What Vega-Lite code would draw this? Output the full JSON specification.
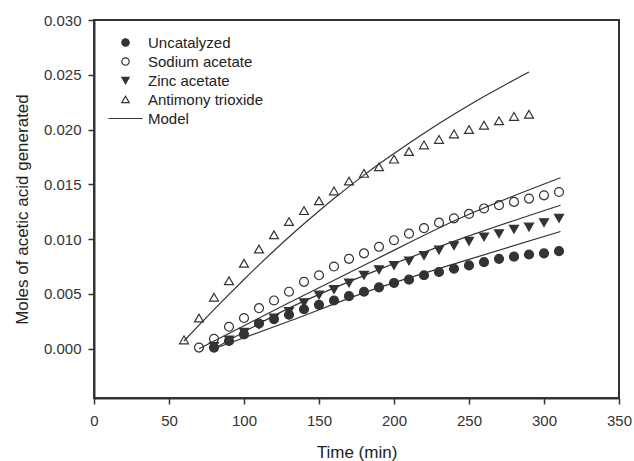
{
  "$schema": "https://vega.github.io/schema/vega-lite/v6.json",
  "width": 525,
  "height": 378,
  "autosize": "none",
  "padding": {"left": 94, "top": 20, "right": 15, "bottom": 63},
  "background": "white",
  "config": {
    "font": "Liberation Sans",
    "view": {"stroke": "#333", "strokeWidth": 2},
    "axis": {
      "grid": false,
      "domainColor": "#333",
      "domainWidth": 2,
      "tickColor": "#333",
      "tickWidth": 1.5,
      "tickSize": 6,
      "labelFont": "Liberation Sans",
      "labelFontSize": 15,
      "labelColor": "#333",
      "titleFont": "Liberation Sans",
      "titleFontSize": 17,
      "titleFontWeight": "normal",
      "titleColor": "#222"
    }
  },
  "datasets": {
    "obs": [
      {"t": 80, "v": 0.0001, "series": "Uncatalyzed"},
      {"t": 90, "v": 0.0007, "series": "Uncatalyzed"},
      {"t": 100, "v": 0.0013, "series": "Uncatalyzed"},
      {"t": 110, "v": 0.0023, "series": "Uncatalyzed"},
      {"t": 120, "v": 0.0027, "series": "Uncatalyzed"},
      {"t": 130, "v": 0.0031, "series": "Uncatalyzed"},
      {"t": 140, "v": 0.0036, "series": "Uncatalyzed"},
      {"t": 150, "v": 0.0040, "series": "Uncatalyzed"},
      {"t": 160, "v": 0.0044, "series": "Uncatalyzed"},
      {"t": 170, "v": 0.0048, "series": "Uncatalyzed"},
      {"t": 180, "v": 0.0052, "series": "Uncatalyzed"},
      {"t": 190, "v": 0.0056, "series": "Uncatalyzed"},
      {"t": 200, "v": 0.0060, "series": "Uncatalyzed"},
      {"t": 210, "v": 0.0063, "series": "Uncatalyzed"},
      {"t": 220, "v": 0.0067, "series": "Uncatalyzed"},
      {"t": 230, "v": 0.0070, "series": "Uncatalyzed"},
      {"t": 240, "v": 0.0073, "series": "Uncatalyzed"},
      {"t": 250, "v": 0.0076, "series": "Uncatalyzed"},
      {"t": 260, "v": 0.0079, "series": "Uncatalyzed"},
      {"t": 270, "v": 0.0082, "series": "Uncatalyzed"},
      {"t": 280, "v": 0.0084, "series": "Uncatalyzed"},
      {"t": 290, "v": 0.0086, "series": "Uncatalyzed"},
      {"t": 300, "v": 0.0087, "series": "Uncatalyzed"},
      {"t": 310, "v": 0.0089, "series": "Uncatalyzed"},
      {"t": 70, "v": 0.0001, "series": "Sodium acetate"},
      {"t": 80, "v": 0.0009, "series": "Sodium acetate"},
      {"t": 90, "v": 0.0020, "series": "Sodium acetate"},
      {"t": 100, "v": 0.0028, "series": "Sodium acetate"},
      {"t": 110, "v": 0.0037, "series": "Sodium acetate"},
      {"t": 120, "v": 0.0044, "series": "Sodium acetate"},
      {"t": 130, "v": 0.0052, "series": "Sodium acetate"},
      {"t": 140, "v": 0.0061, "series": "Sodium acetate"},
      {"t": 150, "v": 0.0067, "series": "Sodium acetate"},
      {"t": 160, "v": 0.0075, "series": "Sodium acetate"},
      {"t": 170, "v": 0.0082, "series": "Sodium acetate"},
      {"t": 180, "v": 0.0087, "series": "Sodium acetate"},
      {"t": 190, "v": 0.0093, "series": "Sodium acetate"},
      {"t": 200, "v": 0.0099, "series": "Sodium acetate"},
      {"t": 210, "v": 0.0105, "series": "Sodium acetate"},
      {"t": 220, "v": 0.0110, "series": "Sodium acetate"},
      {"t": 230, "v": 0.0115, "series": "Sodium acetate"},
      {"t": 240, "v": 0.0119, "series": "Sodium acetate"},
      {"t": 250, "v": 0.0123, "series": "Sodium acetate"},
      {"t": 260, "v": 0.0128, "series": "Sodium acetate"},
      {"t": 270, "v": 0.0131, "series": "Sodium acetate"},
      {"t": 280, "v": 0.0134, "series": "Sodium acetate"},
      {"t": 290, "v": 0.0137, "series": "Sodium acetate"},
      {"t": 300, "v": 0.0140, "series": "Sodium acetate"},
      {"t": 310, "v": 0.0143, "series": "Sodium acetate"},
      {"t": 80, "v": 0.0002, "series": "Zinc acetate"},
      {"t": 90, "v": 0.0008, "series": "Zinc acetate"},
      {"t": 100, "v": 0.0015, "series": "Zinc acetate"},
      {"t": 110, "v": 0.0022, "series": "Zinc acetate"},
      {"t": 120, "v": 0.0028, "series": "Zinc acetate"},
      {"t": 130, "v": 0.0034, "series": "Zinc acetate"},
      {"t": 140, "v": 0.0042, "series": "Zinc acetate"},
      {"t": 150, "v": 0.0049, "series": "Zinc acetate"},
      {"t": 160, "v": 0.0054, "series": "Zinc acetate"},
      {"t": 170, "v": 0.0060, "series": "Zinc acetate"},
      {"t": 180, "v": 0.0067, "series": "Zinc acetate"},
      {"t": 190, "v": 0.0072, "series": "Zinc acetate"},
      {"t": 200, "v": 0.0076, "series": "Zinc acetate"},
      {"t": 210, "v": 0.0080, "series": "Zinc acetate"},
      {"t": 220, "v": 0.0085, "series": "Zinc acetate"},
      {"t": 230, "v": 0.0090, "series": "Zinc acetate"},
      {"t": 240, "v": 0.0094, "series": "Zinc acetate"},
      {"t": 250, "v": 0.0098, "series": "Zinc acetate"},
      {"t": 260, "v": 0.0102, "series": "Zinc acetate"},
      {"t": 270, "v": 0.0105, "series": "Zinc acetate"},
      {"t": 280, "v": 0.0109, "series": "Zinc acetate"},
      {"t": 290, "v": 0.0111, "series": "Zinc acetate"},
      {"t": 300, "v": 0.0115, "series": "Zinc acetate"},
      {"t": 310, "v": 0.0119, "series": "Zinc acetate"},
      {"t": 60, "v": 0.0008, "series": "Antimony trioxide"},
      {"t": 70, "v": 0.0028, "series": "Antimony trioxide"},
      {"t": 80, "v": 0.0047, "series": "Antimony trioxide"},
      {"t": 90, "v": 0.0062, "series": "Antimony trioxide"},
      {"t": 100, "v": 0.0078, "series": "Antimony trioxide"},
      {"t": 110, "v": 0.0091, "series": "Antimony trioxide"},
      {"t": 120, "v": 0.0104, "series": "Antimony trioxide"},
      {"t": 130, "v": 0.0116, "series": "Antimony trioxide"},
      {"t": 140, "v": 0.0126, "series": "Antimony trioxide"},
      {"t": 150, "v": 0.0135, "series": "Antimony trioxide"},
      {"t": 160, "v": 0.0144, "series": "Antimony trioxide"},
      {"t": 170, "v": 0.0153, "series": "Antimony trioxide"},
      {"t": 180, "v": 0.0160, "series": "Antimony trioxide"},
      {"t": 190, "v": 0.0166, "series": "Antimony trioxide"},
      {"t": 200, "v": 0.0173, "series": "Antimony trioxide"},
      {"t": 210, "v": 0.0180, "series": "Antimony trioxide"},
      {"t": 220, "v": 0.0186, "series": "Antimony trioxide"},
      {"t": 230, "v": 0.0191, "series": "Antimony trioxide"},
      {"t": 240, "v": 0.0196, "series": "Antimony trioxide"},
      {"t": 250, "v": 0.0200, "series": "Antimony trioxide"},
      {"t": 260, "v": 0.0204, "series": "Antimony trioxide"},
      {"t": 270, "v": 0.0208, "series": "Antimony trioxide"},
      {"t": 280, "v": 0.0212, "series": "Antimony trioxide"},
      {"t": 290, "v": 0.0214, "series": "Antimony trioxide"}
    ],
    "model": [
      {"t": 80, "v": 0.0000, "series": "Uncatalyzed"},
      {"t": 130, "v": 0.0025, "series": "Uncatalyzed"},
      {"t": 184, "v": 0.0053, "series": "Uncatalyzed"},
      {"t": 244, "v": 0.0079, "series": "Uncatalyzed"},
      {"t": 311, "v": 0.0107, "series": "Uncatalyzed"},
      {"t": 70, "v": 0.0000, "series": "Sodium acetate"},
      {"t": 130, "v": 0.0042, "series": "Sodium acetate"},
      {"t": 187, "v": 0.0081, "series": "Sodium acetate"},
      {"t": 244, "v": 0.0119, "series": "Sodium acetate"},
      {"t": 311, "v": 0.0156, "series": "Sodium acetate"},
      {"t": 80, "v": 0.0000, "series": "Zinc acetate"},
      {"t": 130, "v": 0.0037, "series": "Zinc acetate"},
      {"t": 184, "v": 0.0069, "series": "Zinc acetate"},
      {"t": 244, "v": 0.0100, "series": "Zinc acetate"},
      {"t": 311, "v": 0.0131, "series": "Zinc acetate"},
      {"t": 60, "v": 0.00070, "series": "Antimony trioxide"},
      {"t": 70, "v": 0.00215, "series": "Antimony trioxide"},
      {"t": 80, "v": 0.00357, "series": "Antimony trioxide"},
      {"t": 90, "v": 0.00496, "series": "Antimony trioxide"},
      {"t": 100, "v": 0.00632, "series": "Antimony trioxide"},
      {"t": 110, "v": 0.00765, "series": "Antimony trioxide"},
      {"t": 120, "v": 0.00894, "series": "Antimony trioxide"},
      {"t": 130, "v": 0.01019, "series": "Antimony trioxide"},
      {"t": 140, "v": 0.01140, "series": "Antimony trioxide"},
      {"t": 150, "v": 0.01257, "series": "Antimony trioxide"},
      {"t": 160, "v": 0.01370, "series": "Antimony trioxide"},
      {"t": 170, "v": 0.01479, "series": "Antimony trioxide"},
      {"t": 180, "v": 0.01584, "series": "Antimony trioxide"},
      {"t": 190, "v": 0.01685, "series": "Antimony trioxide"},
      {"t": 200, "v": 0.01782, "series": "Antimony trioxide"},
      {"t": 210, "v": 0.01876, "series": "Antimony trioxide"},
      {"t": 220, "v": 0.01967, "series": "Antimony trioxide"},
      {"t": 230, "v": 0.02055, "series": "Antimony trioxide"},
      {"t": 240, "v": 0.02140, "series": "Antimony trioxide"},
      {"t": 250, "v": 0.02222, "series": "Antimony trioxide"},
      {"t": 260, "v": 0.02301, "series": "Antimony trioxide"},
      {"t": 270, "v": 0.02378, "series": "Antimony trioxide"},
      {"t": 280, "v": 0.02453, "series": "Antimony trioxide"},
      {"t": 290, "v": 0.02526, "series": "Antimony trioxide"}
    ]
  },
  "encoding": {
    "x": {
      "field": "t",
      "type": "quantitative",
      "scale": {"domain": [0, 350], "nice": false, "zero": false},
      "axis": {"values": [0, 50, 100, 150, 200, 250, 300, 350], "title": "Time (min)", "labelPadding": 9, "titlePadding": 16, "labelFlush": false}
    },
    "y": {
      "field": "v",
      "type": "quantitative",
      "scale": {"domain": [-0.0045, 0.03], "nice": false, "zero": false},
      "axis": {"values": [0, 0.005, 0.01, 0.015, 0.02, 0.025, 0.03], "format": ".3f", "title": "Moles of acetic acid generated", "labelPadding": 7, "titlePadding": 12, "labelFlush": false}
    }
  },
  "layer": [
    {
      "data": {"name": "model"},
      "mark": {"type": "line", "color": "#333", "strokeWidth": 1.2, "interpolate": "monotone"},
      "encoding": {"detail": {"field": "series", "type": "nominal"}}
    },
    {
      "data": {"name": "obs"},
      "mark": {"type": "point", "filled": true, "strokeWidth": 1.2, "opacity": 1, "size": 80},
      "encoding": {
        "shape": {
          "field": "series", "type": "nominal",
          "scale": {"domain": ["Uncatalyzed", "Sodium acetate", "Zinc acetate", "Antimony trioxide", "Model"], "range": ["circle", "circle", "triangle-down", "triangle-up", "M-4.6,0H4.6"]},
          "legend": {
            "title": null,
            "orient": "none",
            "legendX": 24,
            "legendY": 15,
            "labelFont": "Liberation Sans",
            "labelFontSize": 15,
            "labelColor": "#222",
            "labelOffset": 15,
            "rowPadding": 3,
            "symbolSize": 55,
            "symbolStrokeWidth": 1.2
          }
        },
        "fill": {
          "field": "series", "type": "nominal",
          "scale": {"domain": ["Uncatalyzed", "Sodium acetate", "Zinc acetate", "Antimony trioxide", "Model"], "range": ["#333", "transparent", "#333", "transparent", "transparent"]}
        },
        "stroke": {
          "field": "series", "type": "nominal",
          "scale": {"domain": ["Uncatalyzed", "Sodium acetate", "Zinc acetate", "Antimony trioxide", "Model"], "range": ["#333", "#333", "#333", "#333", "#333"]}
        }
      }
    }
  ]
}
